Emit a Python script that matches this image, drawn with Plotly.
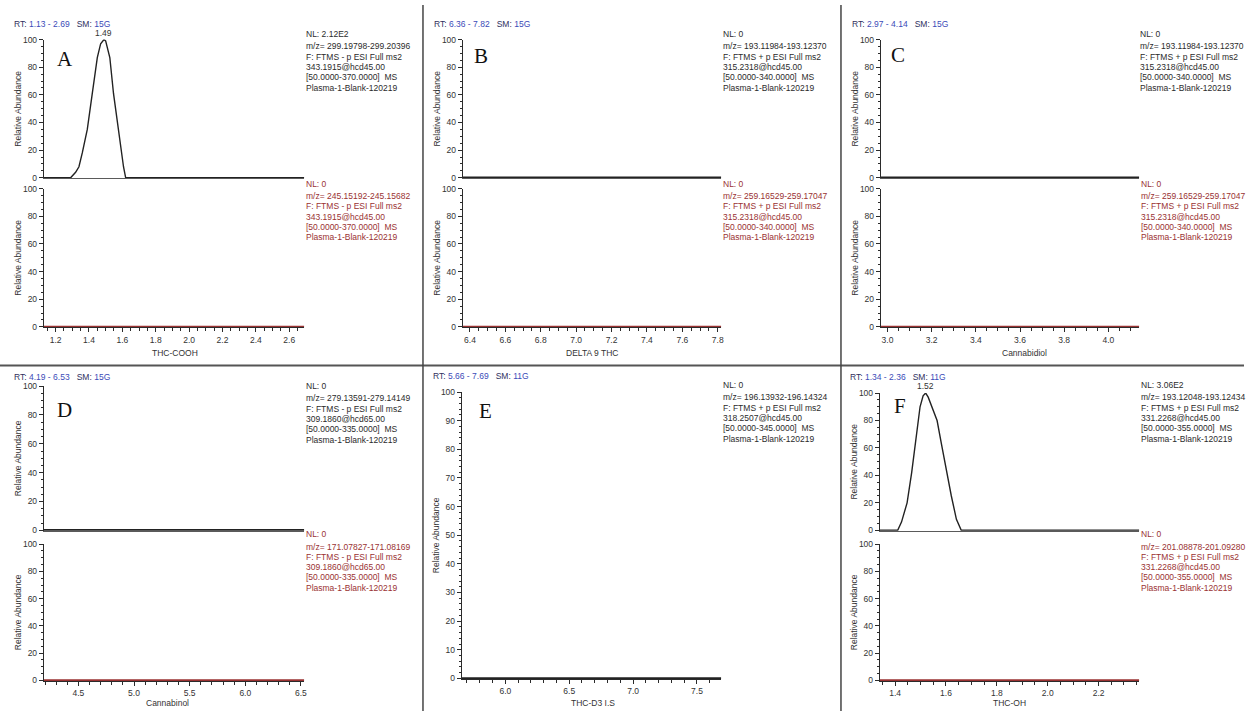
import plotly.graph_objects as go

W, H = 1247, 715
SANS = "Liberation Sans, Arial, sans-serif"
SERIF = "Liberation Serif, Times New Roman, serif"
INK = "#2b2b2b"
RED = "#9a3232"
NAVY = "#2f2f5e"
BLUE = "#3b4bb8"

# Retention-time windows (min) and smoothing for each chromatogram
rt_A = [1.13, 2.69]
rt_B = [6.36, 7.82]
rt_C = [2.97, 4.14]
rt_D = [4.19, 6.53]
rt_E = [5.66, 7.69]
rt_F = [1.34, 2.36]
sm = {"A": "15G", "B": "15G", "C": "15G", "D": "15G", "E": "11G", "F": "11G"}

# THC-COOH quantifier ion trace (relative abundance, %)
thccooh_t = [1.13, 1.29, 1.32, 1.34, 1.36, 1.39, 1.42, 1.45, 1.47, 1.49, 1.50,
             1.525, 1.547, 1.575, 1.607, 1.62, 2.69]
thccooh_y = [0, 0, 4, 8, 18, 35, 61, 87, 97, 100, 99, 87, 61, 35, 8, 0, 0]

# THC-OH quantifier ion trace (relative abundance, %)
thcoh_t = [1.34, 1.41, 1.425, 1.447, 1.465, 1.482, 1.498, 1.51, 1.52, 1.53, 1.55,
           1.565, 1.582, 1.602, 1.621, 1.641, 1.66, 2.36]
thcoh_y = [0, 0, 6, 20, 42, 68, 90, 98, 100, 97, 87, 80, 63, 42, 25, 8, 0, 0]

# Flat (no signal) traces
blank_y = [0, 0]

# Filter / scan description blocks
info = {
    "A_top": ["NL: 2.12E2", "m/z= 299.19798-299.20396", "F: FTMS - p ESI Full ms2",
              "343.1915@hcd45.00", "[50.0000-370.0000]  MS", "Plasma-1-Blank-120219"],
    "A_bot": ["NL: 0", "m/z= 245.15192-245.15682", "F: FTMS - p ESI Full ms2",
              "343.1915@hcd45.00", "[50.0000-370.0000]  MS", "Plasma-1-Blank-120219"],
    "B_top": ["NL: 0", "m/z= 193.11984-193.12370", "F: FTMS + p ESI Full ms2",
              "315.2318@hcd45.00", "[50.0000-340.0000]  MS", "Plasma-1-Blank-120219"],
    "B_bot": ["NL: 0", "m/z= 259.16529-259.17047", "F: FTMS + p ESI Full ms2",
              "315.2318@hcd45.00", "[50.0000-340.0000]  MS", "Plasma-1-Blank-120219"],
    "C_top": ["NL: 0", "m/z= 193.11984-193.12370", "F: FTMS + p ESI Full ms2",
              "315.2318@hcd45.00", "[50.0000-340.0000]  MS", "Plasma-1-Blank-120219"],
    "C_bot": ["NL: 0", "m/z= 259.16529-259.17047", "F: FTMS + p ESI Full ms2",
              "315.2318@hcd45.00", "[50.0000-340.0000]  MS", "Plasma-1-Blank-120219"],
    "D_top": ["NL: 0", "m/z= 279.13591-279.14149", "F: FTMS - p ESI Full ms2",
              "309.1860@hcd65.00", "[50.0000-335.0000]  MS", "Plasma-1-Blank-120219"],
    "D_bot": ["NL: 0", "m/z= 171.07827-171.08169", "F: FTMS - p ESI Full ms2",
              "309.1860@hcd65.00", "[50.0000-335.0000]  MS", "Plasma-1-Blank-120219"],
    "E_top": ["NL: 0", "m/z= 196.13932-196.14324", "F: FTMS + p ESI Full ms2",
              "318.2507@hcd45.00", "[50.0000-345.0000]  MS", "Plasma-1-Blank-120219"],
    "F_top": ["NL: 3.06E2", "m/z= 193.12048-193.12434", "F: FTMS + p ESI Full ms2",
              "331.2268@hcd45.00", "[50.0000-355.0000]  MS", "Plasma-1-Blank-120219"],
    "F_bot": ["NL: 0", "m/z= 201.08878-201.09280", "F: FTMS + p ESI Full ms2",
              "331.2268@hcd45.00", "[50.0000-355.0000]  MS", "Plasma-1-Blank-120219"],
}

compounds = {"A": "THC-COOH", "B": "DELTA 9 THC", "C": "Cannabidiol",
             "D": "Cannabinol", "E": "THC-D3 I.S", "F": "THC-OH"}

fig = go.Figure()
layout = {}
annotations = []
LO_PX = 0.5  # lift the zero line half a pixel so the baseline sits on the axis line


def px_x(x):
    return x / W


def px_y(y):
    return 1 - y / H


def add_plot(i, xs, ys, color, width, box, rt, xticks=None, ydt=20, yminor=5):
    left, right, y100, y0 = box
    scale = (y0 - y100) / 100.0
    lo = -LO_PX / scale
    bottom = y0 + LO_PX
    xs_name = "xaxis" if i == 1 else f"xaxis{i}"
    ys_name = "yaxis" if i == 1 else f"yaxis{i}"
    xr = "x" if i == 1 else f"x{i}"
    yr = "y" if i == 1 else f"y{i}"
    fig.add_trace(go.Scatter(x=xs, y=ys, mode="lines", xaxis=xr, yaxis=yr,
                             line=dict(color=color, width=width),
                             showlegend=False, hoverinfo="skip"))
    xa = dict(domain=[px_x(left), px_x(right)], range=rt, anchor=yr,
              showline=True, linecolor="#5a5a5a" if xticks is None else INK,
              linewidth=1.2, showgrid=False, zeroline=False, fixedrange=True)
    if xticks is None:
        xa.update(ticks="", showticklabels=False)
    else:
        dt, mdt = xticks
        xa.update(ticks="outside", ticklen=4, tickwidth=1, tickcolor=INK,
                  dtick=dt, tick0=0, tickformat=".1f",
                  tickfont=dict(family=SANS, size=8.5, color="#333"),
                  minor=dict(dtick=mdt, tick0=0, ticks="outside", ticklen=3,
                             tickcolor=INK, tickwidth=1))
    ya = dict(domain=[px_y(bottom), px_y(y100)], range=[lo, 100], anchor=xr,
              showline=True, linecolor=INK, linewidth=1.2, showgrid=False,
              zeroline=False, fixedrange=True, ticks="outside", ticklen=4,
              tickwidth=1, tickcolor=INK, dtick=ydt, tick0=0,
              tickfont=dict(family=SANS, size=8.5, color="#333"),
              minor=dict(dtick=yminor, tick0=0, ticks="outside", ticklen=2,
                         tickcolor=INK, tickwidth=1))
    layout[xs_name] = xa
    layout[ys_name] = ya
    # y-axis title
    annotations.append(dict(text="Relative Abundance", textangle=-90,
                            x=px_x(left - 26), y=px_y((y100 + y0) / 2),
                            xref="paper", yref="paper", showarrow=False,
                            xanchor="center", yanchor="middle",
                            font=dict(family=SANS, size=8.5, color="#333")))
    return xr, yr


def add_info(lines, x, y_nl, color):
    ys = [y_nl, y_nl + 12.5] + [y_nl + 12.5 + 10.4 * k for k in range(1, 5)]
    for txt, yy in zip(lines, ys):
        annotations.append(dict(text=txt, x=px_x(x), y=px_y(yy), xref="paper",
                                yref="paper", showarrow=False, xanchor="left",
                                yanchor="middle",
                                font=dict(family=SANS, size=8.5, color=color)))


def add_header(key, rt, x, y):
    txt = (f"<span style='color:{NAVY}'>RT: </span>"
           f"<span style='color:{BLUE}'>{rt[0]:.2f} - {rt[1]:.2f}</span>"
           f"<span style='color:{NAVY}'>   SM: </span>"
           f"<span style='color:{BLUE}'>{sm[key]}</span>")
    annotations.append(dict(text=txt, x=px_x(x), y=px_y(y), xref="paper",
                            yref="paper", showarrow=False, xanchor="left",
                            yanchor="middle", font=dict(family=SANS, size=8.5)))


def add_letter(letter, x, y):
    annotations.append(dict(text=letter, x=px_x(x), y=px_y(y), xref="paper",
                            yref="paper", showarrow=False, xanchor="center",
                            yanchor="middle",
                            font=dict(family=SERIF, size=21, color="#111")))


def add_xtitle(text, x, y):
    annotations.append(dict(text=text, x=px_x(x), y=px_y(y), xref="paper",
                            yref="paper", showarrow=False, xanchor="center",
                            yanchor="middle",
                            font=dict(family=SANS, size=8.5, color="#333")))


def add_peak_label(xr, yr, ts, ys):
    k = ys.index(max(ys))
    annotations.append(dict(text=f"{ts[k]:.2f}", x=ts[k], y=ys[k], xref=xr,
                            yref=yr, showarrow=False, xanchor="center",
                            yanchor="bottom", yshift=0,
                            font=dict(family=SANS, size=8.5, color="#333")))


PEAK_W = 1.4
BASE_W = 2.4

# ---- Row 1 ----
# A: THC-COOH
xr, yr = add_plot(1, thccooh_t, thccooh_y, "#222", PEAK_W, (44, 305, 35, 175), rt_A)
add_peak_label(xr, yr, thccooh_t, thccooh_y)
add_plot(2, rt_A, blank_y, RED, BASE_W, (44, 305, 186, 326), rt_A, xticks=(0.2, 0.05))
# B: DELTA 9 THC
add_plot(3, rt_B, blank_y, "#222", BASE_W, (464, 723, 35, 175), rt_B)
add_plot(4, rt_B, blank_y, RED, BASE_W, (464, 723, 186, 326), rt_B, xticks=(0.2, 0.05))
# C: Cannabidiol
add_plot(5, rt_C, blank_y, "#222", BASE_W, (883, 1142, 35, 175), rt_C)
add_plot(6, rt_C, blank_y, RED, BASE_W, (883, 1142, 186, 326), rt_C, xticks=(0.2, 0.05))

# ---- Row 2 ----
# D: Cannabinol
add_plot(7, rt_D, blank_y, "#222", BASE_W, (44, 305, 386, 532), rt_D)
add_plot(8, rt_D, blank_y, RED, BASE_W, (44, 305, 546, 684), rt_D, xticks=(0.5, 0.1))
# E: THC-D3 internal standard
add_plot(9, rt_E, blank_y, "#222", BASE_W, (463, 723, 392, 682), rt_E,
         xticks=(0.5, 0.1), ydt=10, yminor=2)
# F: THC-OH
xr, yr = add_plot(10, thcoh_t, thcoh_y, "#222", PEAK_W, (882, 1142, 393, 532), rt_F)
add_peak_label(xr, yr, thcoh_t, thcoh_y)
add_plot(11, rt_F, blank_y, RED, BASE_W, (882, 1142, 546, 684), rt_F, xticks=(0.2, 0.05))

# headers
add_header("A", rt_A, 12, 19)
add_header("B", rt_B, 433, 19)
add_header("C", rt_C, 852, 19)
add_header("D", rt_D, 12, 377)
add_header("E", rt_E, 432, 376)
add_header("F", rt_F, 850, 377)

# panel letters
add_letter("A", 65, 55)
add_letter("B", 482, 52)
add_letter("C", 900, 51)
add_letter("D", 65, 410)
add_letter("E", 487, 411)
add_letter("F", 902, 406)

# scan description blocks
add_info(info["A_top"], 305, 29.5, INK)
add_info(info["A_bot"], 305, 181, RED)
add_info(info["B_top"], 723, 29.5, INK)
add_info(info["B_bot"], 723, 181, RED)
add_info(info["C_top"], 1141, 29.5, INK)
add_info(info["C_bot"], 1142, 181, RED)
add_info(info["D_top"], 305, 386, INK)
add_info(info["D_bot"], 305, 536, RED)
add_info(info["E_top"], 723, 385, INK)
add_info(info["F_top"], 1142, 385, INK)
add_info(info["F_bot"], 1142, 536, RED)

# compound names under the x axes
add_xtitle(compounds["A"], 175, 352)
add_xtitle(compounds["B"], 593, 352)
add_xtitle(compounds["C"], 1027, 352)
add_xtitle(compounds["D"], 168, 707)
add_xtitle(compounds["E"], 594, 707)
add_xtitle(compounds["F"], 1012, 707)

# panel dividers
shapes = [
    dict(type="line", xref="paper", yref="paper", x0=0, x1=1,
         y0=px_y(365), y1=px_y(365), line=dict(color="#555", width=2)),
    dict(type="line", xref="paper", yref="paper", x0=px_x(424), x1=px_x(424),
         y0=0, y1=1, line=dict(color="#444", width=1.5)),
    dict(type="line", xref="paper", yref="paper", x0=px_x(843), x1=px_x(843),
         y0=0, y1=1, line=dict(color="#444", width=1.5)),
]

fig.update_layout(width=W, height=H, margin=dict(l=0, r=0, t=0, b=0),
                  paper_bgcolor="white", plot_bgcolor="white",
                  annotations=annotations, shapes=shapes, showlegend=False,
                  **layout)

fig.write_html("out.html")
